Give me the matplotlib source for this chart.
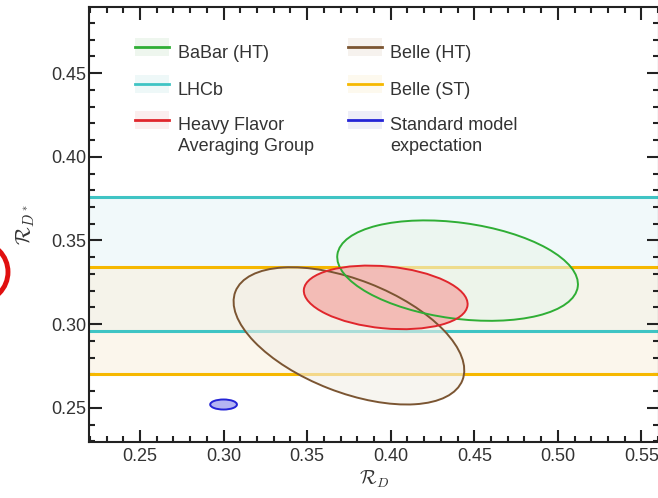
import matplotlib.pyplot as plt
import matplotlib.patches as mpatches
from matplotlib.lines import Line2D
from matplotlib.ticker import MultipleLocator
import numpy as np

plt.rcParams['font.family'] = ['Liberation Sans', 'DejaVu Sans']
plt.rcParams['mathtext.fontset'] = 'cm'

### measurements of R(D), R(D*): centre, errors, correlation
names   = ['BaBar (HT)', 'Belle (HT)', 'Heavy Flavor\nAveraging Group', 'Standard model\nexpectation']
rd      = [0.440, 0.375, 0.397, 0.300]
rd_err  = [0.072, 0.069, 0.049, 0.008]
rds     = [0.332, 0.293, 0.316, 0.252]
rds_err = [0.030, 0.041, 0.019, 0.003]
rho     = [-0.27, -0.50, -0.21, 0.0]
edge    = ['#2fae35', '#7b5532', '#e0262c', '#2424d6']
face    = ['#e9f5ea', '#f3efe6', '#f4b3ae', '#b4b4f2']
alpha   = [0.6, 0.6, 0.85, 1.0]

### R(D*) only measurements: centre, error
bands      = ['LHCb', 'Belle (ST)']
band_val   = [0.336, 0.302]
band_err   = [0.040, 0.032]
band_color = ['#3fc4c4', '#f6b800']
band_fill  = ['#e4f5f6', '#f9eedb']

### ellipse width/height/angle from the covariance matrix
def CovEllipse(x, y, sx, sy, r, **kw):
    cov = np.array([[sx**2, r*sx*sy], [r*sx*sy, sy**2]])
    vals, vecs = np.linalg.eigh(cov)
    ang = np.degrees(np.arctan2(vecs[1, 1], vecs[0, 1]))
    return mpatches.Ellipse((x, y), 2*np.sqrt(vals[1]), 2*np.sqrt(vals[0]),
                            angle=ang, **kw)

### legend entry: faint box with a line, shifted up for two-line labels
class BoxLine(object):
    def __init__(self, col, bg, dy=0.):
        self.col, self.bg, self.dy = col, bg, dy

class BoxLineHandler(object):
    def legend_artist(self, legend, h, fontsize, handlebox):
        x0, y0 = handlebox.xdescent, handlebox.ydescent
        w, ht = handlebox.width, handlebox.height
        tr = handlebox.get_transform()
        box = mpatches.Rectangle((x0, y0 + h.dy), w, ht, facecolor=h.bg,
                                 edgecolor='none', transform=tr)
        line = Line2D([x0, x0 + w], [y0 + ht/2. + h.dy]*2, color=h.col,
                      lw=2, transform=tr)
        handlebox.add_artist(box)
        handlebox.add_artist(line)
        return line

fig = plt.figure(figsize=(6.58, 4.98), dpi=100)
ax = fig.add_axes([89/658., 56/498., 570/658., 435/498.])

for i in range(len(bands)):
    lo = band_val[i] - band_err[i]
    hi = band_val[i] + band_err[i]
    ax.axhspan(lo, hi, color=band_fill[i], alpha=0.5, lw=0, zorder=1)
    ax.axhline(lo, color=band_color[i], lw=2.2, zorder=2)
    ax.axhline(hi, color=band_color[i], lw=2.2, zorder=2)

order = [1, 0, 3, 2]
for i in order:
    ax.add_patch(CovEllipse(rd[i], rds[i], rd_err[i], rds_err[i], rho[i],
                            facecolor=face[i], alpha=alpha[i], lw=0, zorder=3))
for i in order:
    ax.add_patch(CovEllipse(rd[i], rds[i], rd_err[i], rds_err[i], rho[i],
                            facecolor='none', edgecolor=edge[i], lw=1.4, zorder=4))

ax.set_xlim(0.2195, 0.5605)
ax.set_ylim(0.2296, 0.4895)
ax.xaxis.set_major_locator(MultipleLocator(0.05))
ax.xaxis.set_minor_locator(MultipleLocator(0.01))
ax.yaxis.set_major_locator(MultipleLocator(0.05))
ax.yaxis.set_minor_locator(MultipleLocator(0.01))
ax.xaxis.set_major_formatter(plt.FormatStrFormatter('%.2f'))
ax.yaxis.set_major_formatter(plt.FormatStrFormatter('%.2f'))
ax.tick_params(which='both', direction='in', top=True, right=True,
               width=1.5, color='#222222', labelsize=13, labelcolor='#333333')
ax.tick_params(which='major', length=9)
ax.tick_params(which='minor', length=4.5)
ax.tick_params(axis='y', pad=2)
ax.tick_params(axis='x', pad=4)
for s in ax.spines.values():
    s.set_linewidth(1.5)
    s.set_color('#222222')

ax.set_xlabel(r'$\mathcal{R}_D$', fontsize=14, color='#333333', labelpad=3)
ax.set_ylabel(r'$\mathcal{R}_{D^*}$', fontsize=15, color='#333333', labelpad=10)

handles = [BoxLine(edge[0], '#eef6ee'), BoxLine(band_color[0], '#eef8f8'),
           BoxLine(edge[2], '#fbeeee', 8.3), BoxLine(edge[1], '#f6f2ee'),
           BoxLine(band_color[1], '#fdf9ee'), BoxLine(edge[3], '#eeeef8', 8.3)]
labels = [names[0], bands[0], names[2], names[1], bands[1], names[3]]
leg = ax.legend(handles, labels, ncol=2, loc='upper left', frameon=False,
                bbox_to_anchor=(0.065, 0.937), fontsize=13,
                handler_map={BoxLine: BoxLineHandler()},
                handlelength=1.9, handleheight=1.1, handletextpad=0.45,
                labelspacing=1.0, columnspacing=1.9, borderpad=0)
for t in leg.get_texts():
    t.set_color('#333333')
    t.set_linespacing(1.3)

### red ring on the left margin
fig.patches.append(mpatches.Ellipse((-22/658., 1-272/498.), 60/658., 60/498.,
                                    transform=fig.transFigure, facecolor='none',
                                    edgecolor='#e01010', lw=3.5))

plt.savefig('out.png', dpi=100)
